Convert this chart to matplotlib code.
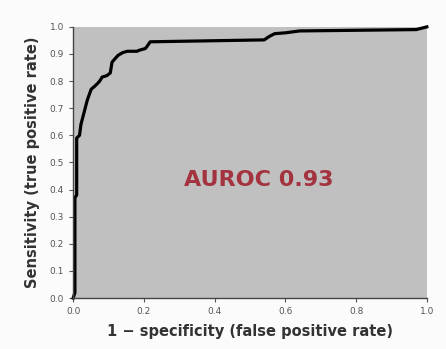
import matplotlib
matplotlib.use("Agg")
import matplotlib.pyplot as plt

# ROC curve points
fpr = [0.0, 0.005, 0.005, 0.01, 0.01, 0.018, 0.022, 0.03, 0.04, 0.051, 0.06,
       0.068, 0.075, 0.082, 0.095, 0.105, 0.11, 0.12, 0.127, 0.14, 0.153,
       0.18, 0.19, 0.204, 0.21, 0.218, 0.54, 0.555, 0.57, 0.6, 0.64,
       0.97, 1.0]
tpr = [0.0, 0.02, 0.37, 0.38, 0.59, 0.6, 0.64, 0.68, 0.73, 0.77, 0.78,
       0.79, 0.8, 0.815, 0.82, 0.83, 0.87, 0.885, 0.895, 0.905, 0.91,
       0.91, 0.915, 0.92, 0.93, 0.945, 0.952, 0.965, 0.975, 0.978, 0.985,
       0.99, 1.0]
auc_label = "AUROC 0.93"
xticks = [0.0, 0.2, 0.4, 0.6, 0.8, 1.0]
yticks = [i / 10 for i in range(11)]

fig = plt.figure(figsize=(4.46, 3.49), dpi=100, facecolor="#fbfbfb")
ax = fig.add_axes([0.164, 0.146, 0.793, 0.777])
ax.set_facecolor("#c0c0c0")

ax.plot(fpr, tpr, color="black", linewidth=2.3, solid_joinstyle="round", clip_on=False)
ax.text(0.524, 0.435, auc_label, color="#a3333f", fontsize=16, fontweight="bold",
        ha="center", va="center")

ax.set_xlim(0, 1)
ax.set_ylim(0, 1)
ax.set_xticks(xticks)
ax.set_yticks(yticks)
ax.set_xticklabels([f"{v:.1f}" for v in xticks])
ax.set_yticklabels([f"{v:.1f}" for v in yticks])
ax.tick_params(labelsize=6.5, colors="#555555", length=3, width=0.8)

for side in ("top", "right"):
    ax.spines[side].set_visible(False)
for side in ("left", "bottom"):
    ax.spines[side].set_color("#444444")
    ax.spines[side].set_linewidth(1.0)

ax.set_xlabel("1 \u2212 specificity (false positive rate)", fontsize=10.5,
              fontweight="bold", color="#333333", labelpad=6)
ax.set_ylabel("Sensitivity (true positive rate)", fontsize=10.5,
              fontweight="bold", color="#333333", labelpad=7)

fig.savefig("out.png", dpi=100, facecolor=fig.get_facecolor())
